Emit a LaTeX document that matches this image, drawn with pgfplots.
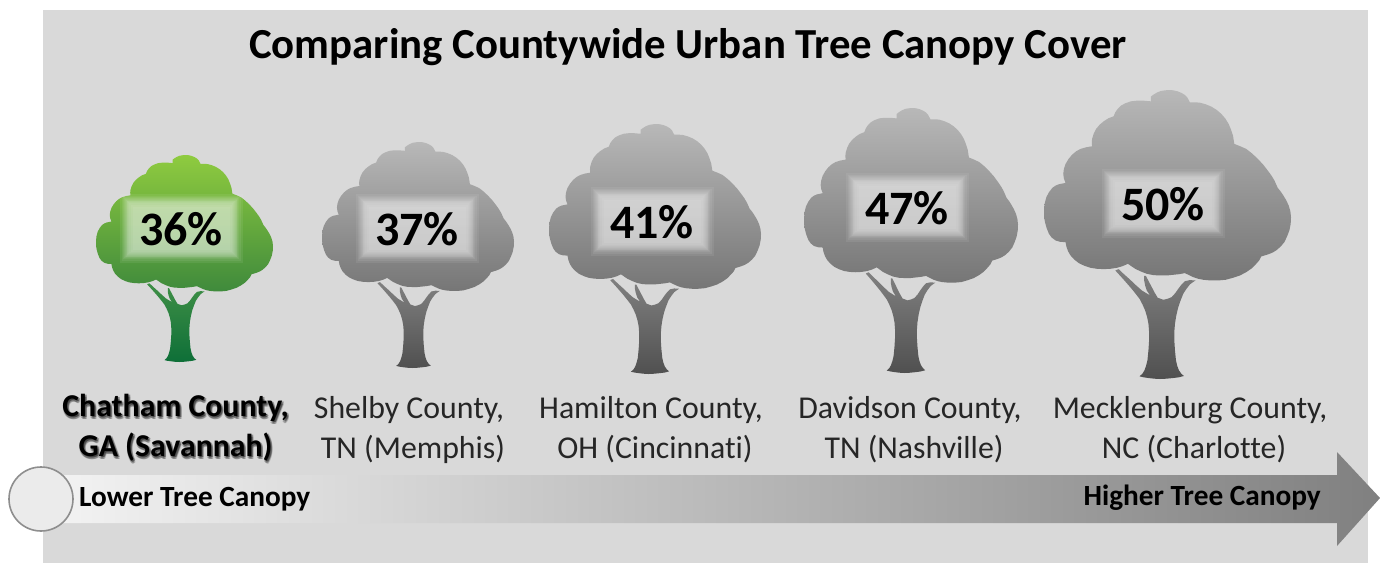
\documentclass[border=0pt]{standalone}
\usepackage{pgfplots}
\usepackage{pgfplotstable}
\usepackage{fontspec}
\setmainfont{Carlito}[Ligatures={NoCommon}]
\pgfplotsset{compat=1.18}

% Crown outline of the tree symbol, in the symbol's own units
\pgfplotstableread{
x y
362 48
370 42
380 36
392 31
405 29
418 28
430 29
443 32
455 37
465 43
472 50
480 65
495 65
510 66
528 71
545 78
561 88
575 100
587 114
597 130
604 147
610 165
614 190
632 197
650 205
668 219
685 235
701 252
715 270
726 285
735 300
745 322
754 333
762 345
771 360
778 375
783 392
785 410
784 430
780 450
773 468
765 485
753 499
740 510
728 517
715 522
695 528
689 540
680 550
666 564
650 575
631 585
610 592
588 598
565 600
542 600
520 598
505 595
490 590
465 578
448 581
430 583
410 585
390 585
370 584
350 580
332 573
315 565
293 550
277 557
260 562
240 565
220 566
200 565
180 562
162 556
145 548
131 537
120 525
113 513
108 500
105 485
89 484
75 480
63 471
55 460
48 443
43 425
40 408
40 390
42 369
47 350
55 335
65 322
75 315
85 311
105 307
100 294
98 280
100 265
105 250
114 235
125 222
137 212
150 205
167 200
185 197
184 186
185 175
190 159
197 145
208 132
220 122
234 113
250 107
255 95
262 85
272 75
285 68
302 62
320 60
340 60
362 62
}\crownshape

% Trunk and branches of the tree symbol
\pgfplotstableread{
x y
255 570
265 566
282 582
300 598
318 615
335 630
360 645
350 630
345 615
342 600
342 586
347 586
356 603
365 620
374 637
383 652
400 658
413 655
425 650
436 638
445 625
455 612
465 602
480 599
497 600
488 606
480 612
469 626
460 640
452 660
445 680
439 705
435 730
433 755
433 780
435 810
438 840
442 857
447 870
454 880
462 887
446 891
430 893
410 895
390 896
372 895
355 893
341 891
328 888
337 880
343 870
348 856
352 840
355 810
357 780
357 755
355 730
351 710
345 690
337 672
328 655
314 637
300 620
278 595
}\trunkshape

% Unit square for the soft label plates
\pgfplotstableread{
x y
-1 -1
1 -1
1 1
-1 1
}\plate

% One tree: centre x, top y, width, height, and the four shades
\newcommand{\tree}[8]{
  \addplot[draw=none, top color=#5, bottom color=#6] table[
    x expr={#1+(\thisrow{x}-412.5)*#3/745},
    y expr={#2+(\thisrow{y}-28)*#4/868}] {\crownshape};
  \addplot[draw=none, top color=#7, bottom color=#8] table[
    x expr={#1+(\thisrow{x}-412.5)*#3/745},
    y expr={#2+(\thisrow{y}-28)*#4/868}] {\trunkshape};
}

% One feathered plate: centre x, centre y, and the growth of the layer
\newcommand{\platelayer}[3]{
  \addplot[draw=none, fill=white, fill opacity=0.07] table[
    x expr={#1+\thisrow{x}*(55+#3)},
    y expr={#2+\thisrow{y}*(28+#3)}] {\plate};
}
\newcommand{\softplate}[2]{
  \platelayer{#1}{#2}{6.5}
  \platelayer{#1}{#2}{4.5}
  \platelayer{#1}{#2}{3.2}
  \platelayer{#1}{#2}{2.2}
  \platelayer{#1}{#2}{1.3}
  \platelayer{#1}{#2}{0.5}
  \platelayer{#1}{#2}{-0.5}
  \platelayer{#1}{#2}{-1.3}
  \platelayer{#1}{#2}{-2.2}
  \platelayer{#1}{#2}{-3.2}
  \platelayer{#1}{#2}{-4.5}
  \platelayer{#1}{#2}{-6.5}
}

\definecolor{panel}{HTML}{D9D9D9}
\definecolor{greenTop}{HTML}{8FCB3F}
\definecolor{greenLow}{HTML}{3F8A3C}
\definecolor{stemTop}{HTML}{3F8F46}
\definecolor{stemLow}{HTML}{0E6F38}
\definecolor{greyTop}{HTML}{B8B8B8}
\definecolor{greyLow}{HTML}{767676}
\definecolor{barkTop}{HTML}{808080}
\definecolor{barkLow}{HTML}{505050}
\definecolor{arrowLeft}{HTML}{F4F4F4}
\definecolor{arrowRight}{HTML}{808080}
\definecolor{discFill}{HTML}{EBEBEB}
\definecolor{discEdge}{HTML}{8E8E8E}
\newcommand{\titlefont}{\fontsize{42.8}{50}\selectfont\bfseries}
\newcommand{\countyfont}{\fontsize{31.8}{40}\selectfont}
\newcommand{\scaleendfont}{\fontsize{29.3}{34}\selectfont\bfseries}
\newcommand{\chathamshadow}[2]{
  \node[align=center, text=black, opacity=0.2, inner sep=0pt, font=\countyfont\bfseries]
    at (axis cs:175.5+#1,428+#2) {Chatham County,\\GA (Savannah)};
}

\begin{document}
\begin{tikzpicture}
\begin{axis}[
  scale only axis, width=1380pt, height=563pt,
  xmin=0, xmax=1380, ymin=0, ymax=563, y dir=reverse,
  hide axis, clip=false, no markers]

  % Canvas and panel
  \addplot[draw=none, fill=white] coordinates {(0,0) (1380,0) (1380,563) (0,563)};
  \addplot[draw=none, fill=panel] coordinates {(43,10) (1368,10) (1368,563) (43,563)};

  % Trees, from the lowest to the highest canopy share
  \tree{184.5}{155}{177}{207}{greenTop}{greenLow}{stemTop}{stemLow}
  \tree{418}{142}{192}{226}{greyTop}{greyLow}{barkTop}{barkLow}
  \tree{655}{124}{212}{250}{greyTop}{greyLow}{barkTop}{barkLow}
  \tree{911}{108}{214}{265}{greyTop}{greyLow}{barkTop}{barkLow}
  \tree{1167.5}{90}{247}{289}{greyTop}{greyLow}{barkTop}{barkLow}

  \softplate{181}{228}
  \softplate{417}{228}
  \softplate{652}{221}
  \softplate{907}{207}
  \softplate{1163}{203}

  % Canopy shares printed on the crowns
  \addplot[only marks, mark=none, point meta=explicit,
    nodes near coords={\fontsize{48}{50}\selectfont\bfseries\pgfmathprintnumber[assume math mode=true]{\pgfplotspointmeta}\%},
    nodes near coords align=center,
    every node near coord/.append style={text=black, inner sep=0pt}]
    table[x=x, y=y, meta=pct] {
    x y pct
    181 229 36
    417 229 37
    652 222 41
    907 208 47
    1163 204 50
  };

  % Arrow running from lower to higher canopy
  \addplot[draw=none, left color=arrowLeft, right color=arrowRight] coordinates {
    (40,475) (1337,475) (1337,452) (1380,498) (1337,546) (1337,523) (40,523)};
  \addplot[only marks, mark=*, mark size=32,
    mark options={draw=discEdge, fill=discFill, line width=1.6pt}] coordinates {(41,499)};

  % Title
  \node[anchor=center, text=black] at (axis cs:688,47) {\titlefont Comparing Countywide Urban Tree Canopy Cover};

  % County names, the highlighted one with a soft shadow
  \chathamshadow{2}{2.4}
  \chathamshadow{1}{2.4}
  \chathamshadow{2}{1.2}
  \chathamshadow{0}{2}
  \chathamshadow{1.5}{0.5}
  \node[align=center, text=black, inner sep=0pt, font=\countyfont\bfseries] at (axis cs:175.5,428)
    {Chatham County,\\GA (Savannah)};
  \node[align=center, text=black!85, inner sep=0pt, font=\countyfont] at (axis cs:409,430)
    {Shelby County,\\\hspace*{8pt}TN (Memphis)};
  \node[align=center, text=black!85, inner sep=0pt, font=\countyfont] at (axis cs:651,430)
    {Hamilton County,\\\hspace*{8pt}OH (Cincinnati)};
  \node[align=center, text=black!85, inner sep=0pt, font=\countyfont] at (axis cs:910,430)
    {Davidson County,\\\hspace*{8pt}TN (Nashville)};
  \node[align=center, text=black!85, inner sep=0pt, font=\countyfont] at (axis cs:1190,430)
    {Mecklenburg County,\\\hspace*{8pt}NC (Charlotte)};

  % Ends of the scale
  \node[anchor=west, text=black, inner sep=0pt] at (axis cs:79,499) {\scaleendfont Lower Tree Canopy};
  \node[anchor=east, text=black, inner sep=0pt] at (axis cs:1321,498) {\scaleendfont Higher Tree Canopy};
\end{axis}
\end{tikzpicture}
\end{document}
